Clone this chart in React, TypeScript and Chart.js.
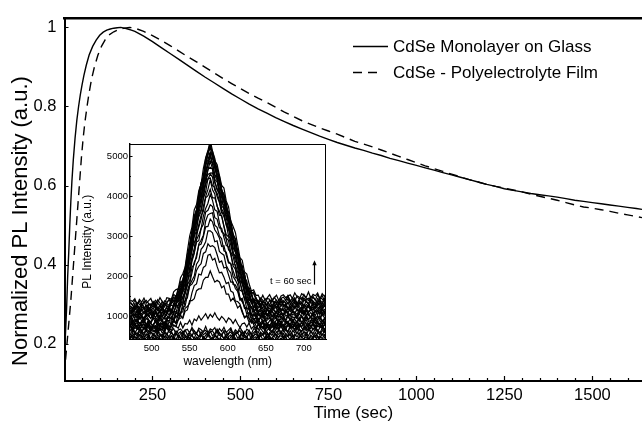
import React, { useEffect, useRef } from "react";
import { Chart, registerables } from "chart.js";

Chart.register(...registerables);

const FONT = "'Liberation Sans', Arial, Helvetica, sans-serif";

// ---------- main chart data ----------
const SERIES_LABELS = ["CdSe Monolayer on Glass", "CdSe - Polyelectrolyte Film"];
const Y_TITLE = "Normalized PL Intensity (a.u.)";
const X_TICKS = [250, 500, 750, 1000, 1250, 1500];
const Y_TICKS = [0.2, 0.4, 0.6, 0.8, 1];

const SOLID_T = [0, 3, 6, 9, 12, 15, 18, 21, 25, 30, 35, 40, 45, 50, 55, 62, 70, 80, 90, 100, 110, 120, 130, 140, 150, 160, 170, 180, 190, 200,
  225, 250, 275, 300, 325, 350, 375, 400, 425, 450, 475, 500, 525, 550, 575, 600, 625, 650, 675, 700, 725, 750, 775, 800, 825, 850, 875, 900, 925, 950,
  975, 1000, 1025, 1050, 1075, 1100, 1125, 1150, 1175, 1200, 1225, 1250, 1275, 1300, 1325, 1350, 1375, 1400, 1425, 1450, 1475, 1500, 1525, 1550, 1575, 1600, 1625, 1641];
const SOLID_V = [0.17, 0.23, 0.29, 0.37, 0.43, 0.5, 0.56, 0.61, 0.665, 0.72, 0.765, 0.8, 0.83, 0.855, 0.878, 0.905, 0.93, 0.952, 0.968, 0.98, 0.988, 0.993, 0.996, 0.998, 0.999, 1.0, 0.998, 0.996, 0.993, 0.99,
  0.978, 0.964, 0.949, 0.934, 0.919, 0.904, 0.889, 0.874, 0.86, 0.846, 0.832, 0.819, 0.806, 0.794, 0.783, 0.772, 0.762, 0.752, 0.743, 0.734, 0.725, 0.717, 0.709, 0.702, 0.695, 0.689, 0.682, 0.676, 0.669, 0.663,
  0.657, 0.651, 0.645, 0.639, 0.633, 0.627, 0.621, 0.615, 0.609, 0.603, 0.598, 0.592, 0.588, 0.584, 0.58, 0.577, 0.574, 0.571, 0.567, 0.563, 0.56, 0.557, 0.554, 0.551, 0.548, 0.545, 0.542, 0.54];

const DASH_T = [3, 8, 13, 18, 23, 28, 33, 38, 43, 48, 53, 58, 64, 70, 77, 85, 95, 105, 115, 125, 140, 155, 170, 185, 200,
  225, 250, 275, 300, 325, 350, 375, 400, 425, 450, 475, 500, 525, 550, 575, 600, 625, 650, 675, 700, 725, 750, 775, 800, 825, 850, 875, 900, 925, 950,
  975, 1000, 1025, 1050, 1075, 1100, 1125, 1150, 1175, 1200, 1225, 1250, 1275, 1300, 1325, 1350, 1375, 1400, 1425, 1450, 1475, 1500, 1525, 1550, 1575, 1600, 1625, 1641];
const DASH_V = [0.16, 0.21, 0.26, 0.31, 0.37, 0.43, 0.49, 0.55, 0.61, 0.67, 0.72, 0.76, 0.8, 0.835, 0.87, 0.9, 0.93, 0.952, 0.968, 0.98, 0.989, 0.995, 0.998, 1.0, 0.998,
  0.99, 0.979, 0.967, 0.954, 0.94, 0.926, 0.913, 0.899, 0.885, 0.871, 0.858, 0.845, 0.833, 0.821, 0.81, 0.798, 0.786, 0.775, 0.764, 0.755, 0.746, 0.738, 0.73, 0.721, 0.712, 0.705, 0.698, 0.69, 0.682, 0.674,
  0.666, 0.658, 0.65, 0.643, 0.636, 0.629, 0.622, 0.615, 0.609, 0.603, 0.598, 0.594, 0.589, 0.584, 0.578, 0.573, 0.568, 0.563, 0.557, 0.551, 0.546, 0.543, 0.539, 0.535, 0.53, 0.526, 0.522, 0.519];

// ---------- inset data ----------
const INSET_X_TICKS = [500, 550, 600, 650, 700];
const INSET_Y_TICKS = [1000, 2000, 3000, 4000, 5000];
const WAVELENGTHS = [472, 475, 478, 481, 484, 487, 490, 493, 496, 499, 502, 505, 508, 511, 514, 517, 520, 523, 526, 529,
  532, 535, 538, 541, 544, 547, 550, 553, 556, 559, 562, 565, 568, 571, 574, 577, 580, 583, 586, 589,
  592, 595, 598, 601, 604, 607, 610, 613, 616, 619, 622, 625, 628, 631, 634, 637, 640, 643, 646, 649,
  652, 655, 658, 661, 664, 667, 670, 673, 676, 679, 682, 685, 688, 691, 694, 697, 700, 703, 706, 709,
  712, 715, 718, 721, 724, 727, 730];
// emission band shape (normalised)
const PROFILE = [0, 0, 0, 0, 0, 0, 0, 0, 0, 0, 0, 0, 0, 0, 0, 0, 0.01, 0.017, 0.03, 0.045,
  0.065, 0.09, 0.13, 0.18, 0.24, 0.315, 0.4, 0.48, 0.56, 0.63, 0.7, 0.765, 0.83, 0.905, 0.97, 1.0, 0.96, 0.91, 0.86, 0.8,
  0.75, 0.7, 0.645, 0.59, 0.53, 0.47, 0.42, 0.36, 0.3, 0.25, 0.195, 0.15, 0.11, 0.08, 0.055, 0.037, 0.025, 0.016, 0.01, 0.006,
  0.003, 0, 0, 0, 0, 0, 0, 0, 0, 0, 0, 0, 0, 0, 0, 0, 0, 0, 0, 0,
  0, 0, 0, 0, 0, 0, 0];
// background rise at long wavelengths
const BG_TILT = [0, 0, 0, 0, 0, 0, 0, 0, 0, 0, 0, 0, 0, 0, 0, 0, 0, 0, 0, 0,
  0, 0, 0, 0, 0, 0, 0, 0, 0, 0, 0, 0, 0, 0, 0, 0, 0, 0, 0, 0,
  0, 0, 0, 0, 0, 0, 0, 0, 0, 0, 0, 0, 0, 4, 9, 15, 22, 30, 39, 48,
  57, 66, 75, 83, 90, 97, 103, 108, 113, 117, 121, 124, 127, 130, 132, 134, 136, 138, 140, 141,
  143, 144, 145, 146, 147, 148, 150];
// detector noise (counts)
const NOISE = [35, -60, 80, -20, -85, 50, 10, -45, 90, -70,
  25, -10, 60, -90, 40, -30, 75, -55, 5, 65,
  -80, 20, -40, 85, -15, -65, 45, 0, -75, 55,
  30, -50, 70, -25, -95, 15, 50, -35, 80, -60,
  10, -85, 60, 25, -45, 90, -20, -70, 35, 5,
  -55, 75, -30, 45, -80, 20, 65, -10, -90, 40,
  -40, 85, 0, -65, 55, -15, 30, -75, 70, -50,
  15, 95, -35, -5, 60, -85, 25, 50, -25, 10];
const SPEC_BASE = [420, 460, 500, 540, 580, 630, 720,
  800, 690, 900, 750, 1000, 660, 1110, 840, 1200, 720, 1260, 930, 1330, 780, 1050, 1290, 870, 1170, 990, 1230, 1020, 1140, 1080, 1380];
const SPEC_PEAK = [420, 470, 510, 560, 600, 660, 1030,
  2060, 2520, 2820, 3150, 3400, 3610, 3780, 3990, 4160, 4330, 4450, 4560, 4660, 4750, 4830, 4900, 4960, 5020, 5080, 5130, 5180, 5230, 5270, 5300];
const T_LABEL = "t = 60 sec";
const T_LABEL_AT = [710, 1875];
const ARROW = [713, 1790, 2400];

const mainDecor = {
  id: "mainDecor",
  afterDraw(chart: any) {
    const { ctx, chartArea: a, scales } = chart;
    const xs = scales.x;
    const ys = scales.y;
    ctx.save();
    ctx.strokeStyle = "#000";
    ctx.lineWidth = 1.2;
    ctx.beginPath();
    for (let v = 50; v <= xs.max; v += 50) {
      const px = Math.round(xs.getPixelForValue(v)) + 0.5;
      const len = v % 250 === 0 ? 5 : 3;
      ctx.moveTo(px, a.bottom);
      ctx.lineTo(px, a.bottom - len);
    }
    for (const v of Y_TICKS) {
      const py = Math.round(ys.getPixelForValue(v)) + 0.5;
      ctx.moveTo(a.left, py);
      ctx.lineTo(a.left + 4, py);
    }
    ctx.stroke();
    // y axis title
    ctx.translate(20.5, 221);
    ctx.rotate(-Math.PI / 2);
    ctx.font = `22px ${FONT}`;
    ctx.fillStyle = "#000";
    ctx.textAlign = "center";
    ctx.textBaseline = "middle";
    ctx.fillText(Y_TITLE, 0, 0);
    ctx.restore();
  },
};

const insideLegend = {
  id: "insideLegend",
  afterDraw(chart: any) {
    const { ctx } = chart;
    const rows = [46.5, 72.5];
    ctx.save();
    ctx.font = `17px ${FONT}`;
    ctx.fillStyle = "#000";
    ctx.strokeStyle = "#000";
    ctx.textBaseline = "middle";
    chart.data.datasets.forEach((ds: any, i: number) => {
      const y = rows[i];
      ctx.beginPath();
      ctx.lineWidth = 1.4;
      ctx.setLineDash(ds.borderDash || []);
      ctx.moveTo(353, y);
      ctx.lineTo(i === 0 ? 388 : 381, y);
      ctx.stroke();
      ctx.setLineDash([]);
      ctx.fillText(ds.label, 393, y + 0.5);
    });
    ctx.restore();
  },
};

const insetDecor = {
  id: "insetDecor",
  afterDraw(chart: any) {
    const { ctx, chartArea: a, scales } = chart;
    const xs = scales.x;
    const ys = scales.y;
    ctx.save();
    ctx.strokeStyle = "#000";
    ctx.lineWidth = 1;
    ctx.beginPath();
    ctx.moveTo(a.left, a.top + 0.5);
    ctx.lineTo(a.right - 0.5, a.top + 0.5);
    ctx.lineTo(a.right - 0.5, a.bottom);
    for (let v = 480; v <= 720; v += 10) {
      const px = Math.round(xs.getPixelForValue(v)) + 0.5;
      const len = v % 50 === 0 ? 3 : 1.5;
      ctx.moveTo(px, a.bottom);
      ctx.lineTo(px, a.bottom - len);
    }
    for (let v = 500; v <= 5000; v += 500) {
      const py = Math.round(ys.getPixelForValue(v)) + 0.5;
      const len = v % 1000 === 0 ? 3 : 1.5;
      ctx.moveTo(a.left, py);
      ctx.lineTo(a.left + len, py);
    }
    ctx.stroke();
    // arrow
    const ax = Math.round(xs.getPixelForValue(ARROW[0])) + 0.5;
    const ay1 = ys.getPixelForValue(ARROW[1]);
    const ay2 = ys.getPixelForValue(ARROW[2]);
    ctx.beginPath();
    ctx.lineWidth = 1.2;
    ctx.moveTo(ax, ay1);
    ctx.lineTo(ax, ay2 + 3);
    ctx.stroke();
    ctx.beginPath();
    ctx.fillStyle = "#000";
    ctx.moveTo(ax, ay2);
    ctx.lineTo(ax - 2.2, ay2 + 5);
    ctx.lineTo(ax + 2.2, ay2 + 5);
    ctx.closePath();
    ctx.fill();
    ctx.font = `9.5px ${FONT}`;
    ctx.textAlign = "right";
    ctx.textBaseline = "middle";
    ctx.fillText(T_LABEL, xs.getPixelForValue(T_LABEL_AT[0]), ys.getPixelForValue(T_LABEL_AT[1]));
    ctx.restore();
  },
};

export default function App() {
  const mainRef = useRef<HTMLCanvasElement>(null);
  const insetRef = useRef<HTMLCanvasElement>(null);

  useEffect(() => {
    const solid = SOLID_T.map((t, i) => ({ x: t, y: SOLID_V[i] }));
    const dashed = DASH_T.map((t, i) => ({ x: t, y: DASH_V[i] }));
    const main = new Chart(mainRef.current!, {
      type: "line",
      data: {
        datasets: [
          { label: SERIES_LABELS[0], data: solid, borderColor: "#000", borderWidth: 1.4, pointRadius: 0, tension: 0, fill: false },
          { label: SERIES_LABELS[1], data: dashed, borderColor: "#000", borderWidth: 1.4, borderDash: [9, 6], pointRadius: 0, tension: 0, fill: false },
        ],
      },
      options: {
        animation: false,
        responsive: false,
        devicePixelRatio: 1,
        layout: { padding: 0 },
        plugins: { legend: { display: false }, tooltip: { enabled: false } },
        scales: {
          x: {
            type: "linear",
            position: "bottom",
            min: 0,
            max: 1641,
            afterBuildTicks: (s: any) => { s.ticks = X_TICKS.map((v) => ({ value: v })); },
            ticks: { font: { family: FONT, size: 16.5 }, color: "#000", padding: 5, maxRotation: 0, autoSkip: false, callback: (v: any) => String(v) },
            grid: { display: false, drawTicks: false },
            border: { display: true, color: "#000", width: 2 },
            title: { display: true, text: "Time (sec)", color: "#000", font: { family: FONT, size: 17 }, padding: { top: 0, bottom: 0 } },
            afterFit: (s: any) => { s.height = 43; },
          },
          xTop: {
            type: "linear",
            position: "top",
            min: 0,
            max: 1641,
            ticks: { display: false },
            grid: { display: false, drawTicks: false },
            border: { display: true, color: "#000", width: 2.5 },
            afterFit: (s: any) => { s.height = 13.5; },
          },
          y: {
            type: "linear",
            min: 0.106,
            max: 1.024,
            afterBuildTicks: (s: any) => { s.ticks = Y_TICKS.map((v) => ({ value: v })); },
            ticks: { font: { family: FONT, size: 16.5 }, color: "#000", padding: 8, callback: (v: any) => String(+Number(v).toFixed(1)) },
            grid: { display: false, drawTicks: false },
            border: { display: true, color: "#000", width: 2 },
            title: { display: false },
            afterFit: (s: any) => { s.width = 64.5; },
          },
        },
      },
      plugins: [mainDecor, insideLegend],
    } as any);

    const spectra = SPEC_BASE.map((b, k) => ({
      data: WAVELENGTHS.map((w, i) => ({
        x: w,
        y: b + (SPEC_PEAK[k] - b) * PROFILE[i] + BG_TILT[i] * (b - 400) / 1000 + NOISE[(i + k * 11) % NOISE.length],
      })),
      borderColor: "#000",
      borderWidth: 1.2,
      pointRadius: 0,
      tension: 0,
      fill: false,
    }));
    const inset = new Chart(insetRef.current!, {
      type: "line",
      data: { datasets: spectra },
      options: {
        animation: false,
        responsive: false,
        devicePixelRatio: 1,
        layout: { padding: { top: 14, right: 9, left: 0, bottom: 0 } },
        plugins: { legend: { display: false }, tooltip: { enabled: false } },
        scales: {
          x: {
            type: "linear",
            min: 471,
            max: 729,
            afterBuildTicks: (s: any) => { s.ticks = INSET_X_TICKS.map((v) => ({ value: v })); },
            ticks: { font: { family: FONT, size: 9.5 }, color: "#000", padding: 2.8, maxRotation: 0, autoSkip: false, callback: (v: any) => String(v) },
            grid: { display: false, drawTicks: false },
            border: { display: true, color: "#000", width: 1 },
            title: { display: true, text: "wavelength (nm)", color: "#000", font: { family: FONT, size: 12 }, padding: { top: 0, bottom: 6 } },
            afterFit: (s: any) => { s.height = 35.5; },
          },
          y: {
            type: "linear",
            min: 420,
            max: 5300,
            afterBuildTicks: (s: any) => { s.ticks = INSET_Y_TICKS.map((v) => ({ value: v })); },
            ticks: { font: { family: FONT, size: 9.5 }, color: "#000", padding: 1.5, callback: (v: any) => String(v) },
            grid: { display: false, drawTicks: false },
            border: { display: true, color: "#000", width: 1.4 },
            title: { display: true, text: "PL Intensity (a.u.)", color: "#000", font: { family: FONT, size: 12 }, padding: { top: 10.8, bottom: 0 } },
            afterFit: (s: any) => { s.width = 59.5; },
          },
        },
      },
      plugins: [insetDecor],
    } as any);

    return () => {
      main.destroy();
      inset.destroy();
    };
  }, []);

  return (
    <div style={{ position: "absolute", left: 0, top: 0, width: 642, height: 424, background: "#fff", overflow: "hidden" }}>
      <canvas ref={mainRef} width={642} height={424} style={{ position: "absolute", left: 0, top: 0, width: 642, height: 424 }} />
      <canvas ref={insetRef} width={265} height={245} style={{ position: "absolute", left: 70, top: 130, width: 265, height: 245 }} />
    </div>
  );
}
